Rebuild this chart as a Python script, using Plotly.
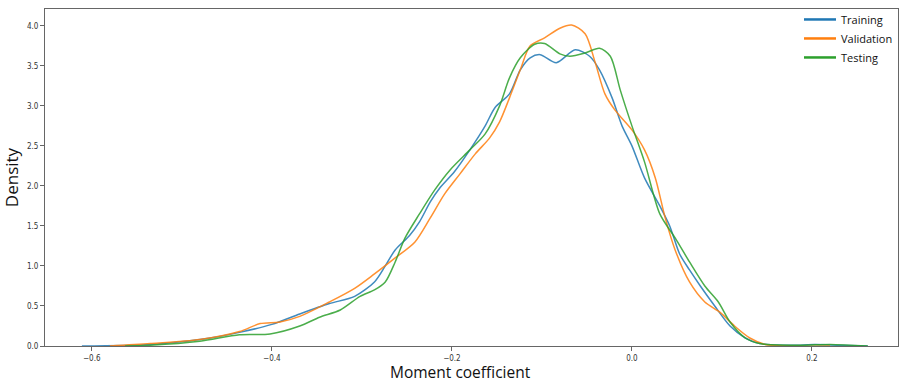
import plotly.graph_objects as go

train_x = [-0.611, -0.535, -0.48, -0.436, -0.4, -0.369, -0.336, -0.308, -0.286, -0.274, -0.263, -0.247, -0.236,
           -0.224, -0.213, -0.197, -0.18, -0.163, -0.152, -0.136, -0.124, -0.113, -0.102, -0.084, -0.063, -0.047,
           -0.036, -0.022, -0.011, 0.0, 0.014, 0.031, 0.042, 0.053, 0.064, 0.076, 0.092, 0.109, 0.126, 0.142,
           0.187, 0.203, 0.231, 0.262]
train_y = [0.0, 0.02, 0.08, 0.17, 0.27, 0.40, 0.53, 0.62, 0.80, 1.0, 1.2, 1.38, 1.55,
           1.8, 1.98, 2.18, 2.45, 2.75, 2.98, 3.15, 3.45, 3.6, 3.64, 3.54, 3.70, 3.62,
           3.45, 3.1, 2.75, 2.5, 2.1, 1.75, 1.5, 1.15, 0.95, 0.75, 0.5, 0.25, 0.1, 0.03,
           0.01, 0.02, 0.01, 0.0]

val_x = [-0.58, -0.535, -0.48, -0.436, -0.413, -0.391, -0.369, -0.336, -0.308, -0.286, -0.263, -0.241, -0.224,
         -0.208, -0.191, -0.174, -0.158, -0.147, -0.136, -0.124, -0.113, -0.097, -0.08, -0.067, -0.052, -0.041,
         -0.03, -0.019, 0.0, 0.014, 0.026, 0.037, 0.048, 0.064, 0.081, 0.098, 0.114, 0.131, 0.148, 0.176, 0.22]
val_y = [0.0, 0.03, 0.08, 0.18, 0.28, 0.30, 0.37, 0.55, 0.72, 0.90, 1.1, 1.3, 1.6,
         1.9, 2.15, 2.4, 2.6, 2.8, 3.1, 3.45, 3.75, 3.85, 3.97, 4.01, 3.9, 3.55,
         3.15, 2.95, 2.7, 2.45, 2.1, 1.6, 1.2, 0.8, 0.55, 0.42, 0.25, 0.1, 0.02, 0.0, 0.0]

test_x = [-0.563, -0.535, -0.48, -0.436, -0.402, -0.369, -0.347, -0.324, -0.302, -0.286, -0.274, -0.263, -0.252,
          -0.236, -0.219, -0.202, -0.18, -0.163, -0.147, -0.136, -0.124, -0.108, -0.097, -0.08, -0.069, -0.052,
          -0.036, -0.024, -0.013, 0.0, 0.014, 0.031, 0.048, 0.064, 0.081, 0.096, 0.109, 0.126, 0.142, 0.187,
          0.22, 0.262]
test_y = [0.0, 0.01, 0.06, 0.14, 0.15, 0.25, 0.36, 0.45, 0.62, 0.70, 0.8, 1.05, 1.35,
          1.65, 1.95, 2.2, 2.45, 2.65, 3.0, 3.35, 3.6, 3.77, 3.78, 3.65, 3.62, 3.66,
          3.72, 3.62, 3.2, 2.75, 2.3, 1.65, 1.35, 1.05, 0.75, 0.55, 0.3, 0.1, 0.03, 0.01,
          0.02, 0.0]

names = ["Training", "Validation", "Testing"]
colors = ["#1f77b4", "#ff7f0e", "#2ca02c"]
xs = [train_x, val_x, test_x]
ys = [train_y, val_y, test_y]
x_title = "Moment coefficient"
y_title = "Density"

fig = go.Figure()
for n, c, x, y in zip(names, colors, xs, ys):
    fig.add_trace(go.Scatter(x=x, y=y, mode="lines", name=n, showlegend=False,
                             line=dict(color=c, width=1.5, shape="spline", smoothing=0.8),
                             opacity=0.85))
# legend entries with thicker sample lines
for n, c in zip(names, colors):
    fig.add_trace(go.Scatter(x=[None], y=[None], mode="lines", name=n,
                             line=dict(color=c, width=2.5)))

axis_common = dict(showline=True, linecolor="#666666", linewidth=1, mirror=True, automargin=False,
                   ticks="outside", ticklen=4, tickcolor="#666666", showgrid=False,
                   zeroline=False, tickfont=dict(family="DejaVu Sans Condensed, DejaVu Sans", size=8, color="#333333"))

fig.update_layout(
    width=900, height=382,
    margin=dict(l=45, r=2, t=9, b=36),
    paper_bgcolor="white", plot_bgcolor="white",
    xaxis=dict(range=[-0.652, 0.2956], tickvals=[-0.6, -0.4, -0.2, 0.0, 0.2],
               ticktext=["\u22120.6", "\u22120.4", "\u22120.2", "0.0", "0.2"],
               **axis_common),
    yaxis=dict(range=[0, 4.21], tickvals=[0, 0.5, 1, 1.5, 2, 2.5, 3, 3.5, 4],
               ticktext=["0.0", "0.5", "1.0", "1.5", "2.0", "2.5", "3.0", "3.5", "4.0"],
               title=dict(text=y_title, standoff=4,
                          font=dict(family="Open Sans, Liberation Sans", size=17, color="#111111")),
               **axis_common),
    legend=dict(x=1.0, y=1.012, xanchor="right", yanchor="top", bgcolor="rgba(0,0,0,0)",
                font=dict(family="Open Sans, Liberation Sans", size=11, color="#111111"),
                itemwidth=32, tracegroupgap=0),
    showlegend=True,
    annotations=[dict(text=x_title, xref="paper", yref="paper", x=0.487, y=0,
                      xanchor="center", yanchor="top", yshift=-14, showarrow=False, borderpad=0,
                      font=dict(family="Open Sans, Liberation Sans", size=15.5, color="#111111"))],
)

fig.write_html("out.html")
